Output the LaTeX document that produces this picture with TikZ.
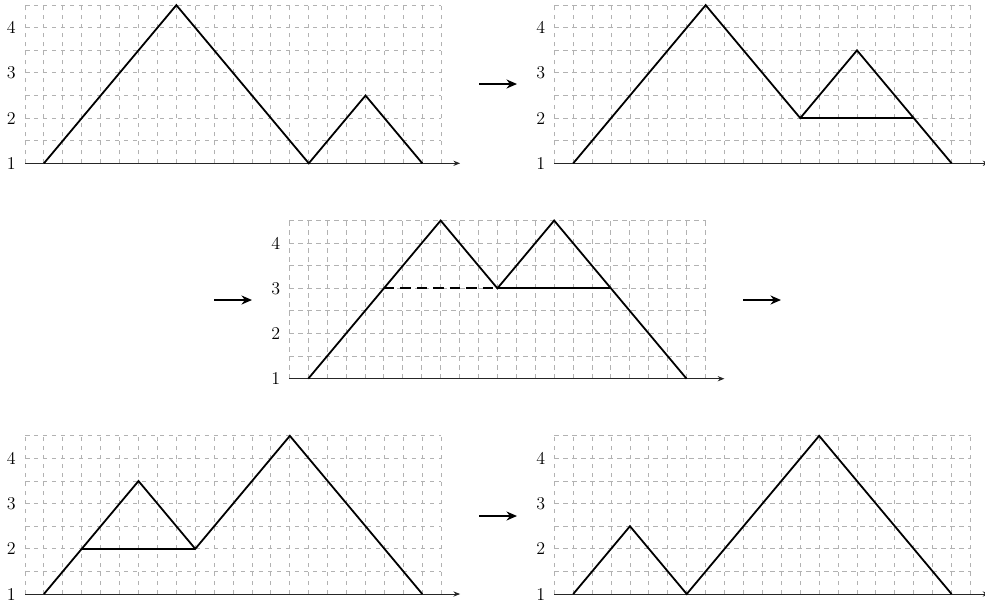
\documentclass[tikz,border=0pt]{standalone}
\usetikzlibrary{arrows.meta}
\tikzset{
  gridline/.style={draw=gray!60, line width=0.6pt, dashed},
  axisline/.style={draw=black!85, line width=0.6pt, -{Stealth[length=4.5pt,width=3.5pt]}},
  pathline/.style={draw=black, line width=1.2pt, line join=miter},
  dashpath/.style={draw=black, line width=1.2pt, dash pattern=on 7pt off 4pt},
  steparrow/.style={draw=black, line width=1.5pt, -{Stealth[length=7pt,width=6pt]}},
  ylab/.style={inner sep=0pt, font=\large},
  panel/.style={x=12.613pt, y=30.13pt}
}
\newcommand{\panelgrid}[1]{%
  \draw[gridline, xstep=1, ystep=0.5] (0,1) grid (22,4.5);
  \draw[axisline] (0,1) -- (23,1);
  \node[ylab] (#1l1) at (-0.72,1) {1};
  \node[ylab] (#1l2) at (-0.72,2) {2};
  \node[ylab] (#1l3) at (-0.72,3) {3};
  \node[ylab] (#1l4) at (-0.72,4) {4};
}
\begin{document}
\begin{tikzpicture}[x=0.6667pt, y=-0.6667pt]
\useasboundingbox (0,0) rectangle (985,607);

% panel 1 (top left)
\begin{scope}[shift={(25,208.5)}, panel]
  \panelgrid{a}
  \draw[pathline] (1,1) -- (8,4.5) -- (15,1) -- (18,2.5) -- (21,1);
\end{scope}

% panel 2 (top right)
\begin{scope}[shift={(554.3,208.5)}, panel]
  \panelgrid{b}
  \draw[pathline] (1,1) -- (8,4.5) -- (13,2) -- (16,3.5) -- (21,1);
  \draw[pathline] (13,2) -- (19,2);
\end{scope}

% panel 3 (middle)
\begin{scope}[shift={(289.3,423.9)}, panel]
  \panelgrid{c}
  \draw[pathline] (1,1) -- (8,4.5) -- (11,3) -- (14,4.5) -- (21,1);
  \draw[dashpath] (5,3) -- (11,3);
  \draw[pathline] (11,3) -- (17,3);
\end{scope}

% panel 4 (bottom left)
\begin{scope}[shift={(25,639.2)}, panel]
  \panelgrid{d}
  \draw[pathline] (1,1) -- (6,3.5) -- (9,2) -- (14,4.5) -- (21,1);
  \draw[pathline] (3,2) -- (9,2);
\end{scope}

% panel 5 (bottom right)
\begin{scope}[shift={(554.3,639.2)}, panel]
  \panelgrid{e}
  \draw[pathline] (1,1) -- (4,2.5) -- (7,1) -- (14,4.5) -- (21,1);
\end{scope}

% arrows between panels
\coordinate (a1s) at (479,84);
\coordinate (a1e) at (517,84);
\coordinate (a2s) at (214,300);
\coordinate (a2e) at (252,300);
\coordinate (a3s) at (743,300);
\coordinate (a3e) at (781,300);
\coordinate (a4s) at (479,516);
\coordinate (a4e) at (517,516);
\draw[steparrow] (a1s) -- (a1e);
\draw[steparrow] (a2s) -- (a2e);
\draw[steparrow] (a3s) -- (a3e);
\draw[steparrow] (a4s) -- (a4e);
\end{tikzpicture}
\end{document}
